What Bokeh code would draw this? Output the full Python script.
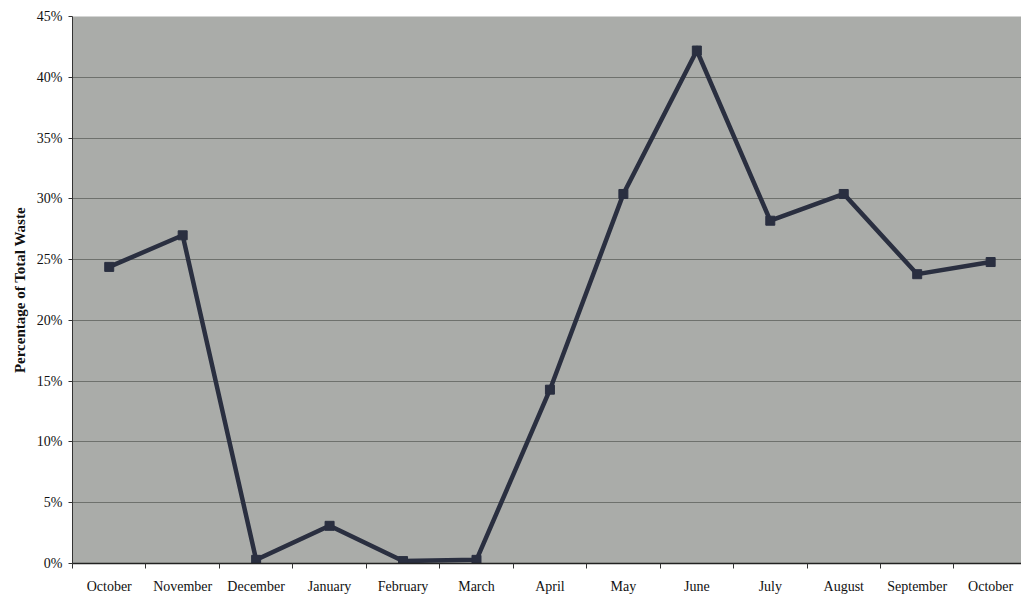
from bokeh.plotting import figure
from bokeh.models import FixedTicker, NumeralTickFormatter, Range1d
from bokeh.embed import file_html
from bokeh.resources import INLINE

# Monthly share of total waste, October through the following October
months = ["October", "November", "December", "January", "February", "March",
          "April", "May", "June", "July", "August", "September", "October"]
share = [0.244, 0.270, 0.003, 0.031, 0.002, 0.003,
         0.143, 0.304, 0.422, 0.282, 0.304, 0.238, 0.248]
y_ticks = [0.00, 0.05, 0.10, 0.15, 0.20, 0.25, 0.30, 0.35, 0.40, 0.45]

xs = list(range(len(months)))

p = figure(width=1021, height=602, output_backend="svg", toolbar_location=None,
           x_range=Range1d(-0.5, len(months) - 0.58), y_range=Range1d(0, 0.45),
           min_border_left=72, min_border_right=0, min_border_top=16, min_border_bottom=39,
           background_fill_color="#aaaca9", border_fill_color="white")
p.outline_line_color = None

serif = "Liberation Serif"

# x axis: labels at month centres, small tick marks between months
p.xaxis.ticker = FixedTicker(ticks=xs, minor_ticks=[i - 0.5 for i in range(len(months) + 1)])
p.xaxis.major_label_overrides = {i: m for i, m in enumerate(months)}
p.xaxis.major_tick_line_color = None
p.xaxis.minor_tick_out = 5
p.xaxis.minor_tick_in = 0
p.xaxis.minor_tick_line_color = "#333333"
p.xaxis.axis_line_color = "#222222"
p.xaxis.axis_line_width = 1.5
p.xaxis.major_label_standoff = 9
p.xaxis.major_label_text_font = serif
p.xaxis.major_label_text_font_size = "14px"
p.xaxis.major_label_text_color = "#111111"

# y axis: percentages every 5%
p.yaxis.ticker = FixedTicker(ticks=y_ticks)
p.yaxis.formatter = NumeralTickFormatter(format="0%")
p.yaxis.minor_tick_line_color = None
p.yaxis.major_tick_out = 4
p.yaxis.major_tick_in = 0
p.yaxis.major_tick_line_color = "#333333"
p.yaxis.axis_line_color = "#333333"
p.yaxis.major_label_standoff = 6
p.yaxis.major_label_text_font = serif
p.yaxis.major_label_text_font_size = "14px"
p.yaxis.major_label_text_color = "#111111"
p.yaxis.axis_label = "Percentage of Total Waste"
p.yaxis.axis_label_text_font = serif
p.yaxis.axis_label_text_font_size = "15px"
p.yaxis.axis_label_text_font_style = "bold"
p.yaxis.axis_label_text_color = "#111111"
p.yaxis.axis_label_standoff = 6

p.xgrid.grid_line_color = None
p.ygrid.grid_line_color = "#6e716d"
p.ygrid.grid_line_width = 1

p.line(xs, share, line_color="#2a2f40", line_width=4.5, line_join="miter")
p.scatter(xs, share, marker="square", size=9, fill_color="#2a2f40", line_color="#2a2f40")

open("out.html", "w").write(file_html(p, INLINE))
